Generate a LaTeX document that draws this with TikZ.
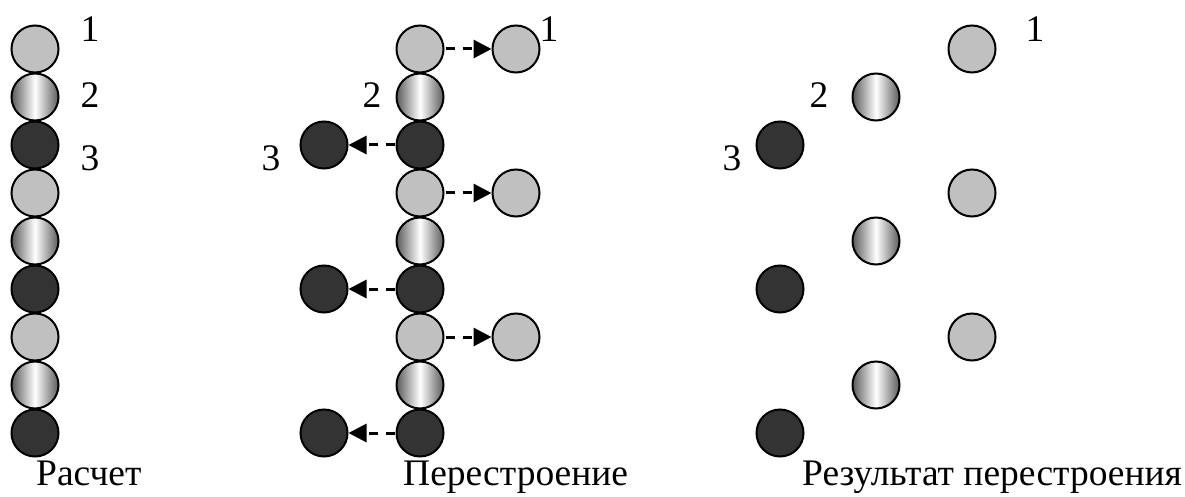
\documentclass[tikz,border=0pt]{standalone}
\usepackage{fontspec}
\setmainfont{Liberation Serif}
\usetikzlibrary{arrows.meta}
\definecolor{ballgrey}{HTML}{C0C0C0}
\definecolor{balldark}{HTML}{333333}
\definecolor{balledge}{HTML}{5A5A5A}
\tikzset{
  ball/.style={circle, draw=black, line width=2pt, minimum size=47pt, inner sep=0pt},
  gball/.style={ball, fill=ballgrey},
  dball/.style={ball, fill=balldark},
  wball/.style={ball, left color=balledge, right color=balledge, middle color=white},
  lbl/.style={inner sep=0pt, font=\fontsize{37.5}{40}\selectfont},
  captxt/.style={inner sep=0pt, anchor=base west, font=\fontsize{37.5}{40}\selectfont},
  mv/.style={line width=3pt, dash pattern=on 9pt off 8pt, -{Triangle[length=18pt,width=18pt]}, shorten <=1pt, shorten >=0pt}
}
\begin{document}
\begin{tikzpicture}[x=1pt,y=-1pt]
\useasboundingbox (0,0) rectangle (1185,497);
% column 1
\foreach \i/\s in {0/gball,1/wball,2/dball,3/gball,4/wball,5/dball,6/gball,7/wball,8/dball}{
  \node[\s] (a\i) at (35,{49+48*\i}) {};
}
\node[lbl] (a1l) at (90,29) {1};
\node[lbl] (a2l) at (90,95) {2};
\node[lbl] (a3l) at (90,158) {3};
% column 2
\foreach \i/\s in {0/gball,1/wball,2/dball,3/gball,4/wball,5/dball,6/gball,7/wball,8/dball}{
  \node[\s] (b\i) at (420,{49+48*\i}) {};
}
\node[gball] (r0) at (516,49) {};
\node[gball] (r3) at (516,193) {};
\node[gball] (r6) at (516,337) {};
\node[dball] (l2) at (324,145) {};
\node[dball] (l5) at (324,289) {};
\node[dball] (l8) at (324,433) {};
\draw[mv] (b0) -- (r0);
\draw[mv] (b3) -- (r3);
\draw[mv] (b6) -- (r6);
\draw[mv] (b2) -- (l2);
\draw[mv] (b5) -- (l5);
\draw[mv] (b8) -- (l8);
\node[lbl] (b1l) at (549,29) {1};
\node[lbl] (b2l) at (372,95) {2};
\node[lbl] (b3l) at (271,158) {3};
% column 3
\node[gball] (c0) at (972,49) {};
\node[gball] (c3) at (972,193) {};
\node[gball] (c6) at (972,337) {};
\node[wball] (c1) at (876,97) {};
\node[wball] (c4) at (876,241) {};
\node[wball] (c7) at (876,385) {};
\node[dball] (c2) at (780,145) {};
\node[dball] (c5) at (780,289) {};
\node[dball] (c8) at (780,433) {};
\node[lbl] (c1l) at (1035,29) {1};
\node[lbl] (c2l) at (819,95) {2};
\node[lbl] (c3l) at (732,158) {3};
% captions
\node[captxt] (k1) at (36,485) {Расчет};
\node[captxt] (k2) at (403,485) {Перестроение};
\node[captxt] (k3) at (802,485) {Результат перестроения};
\end{tikzpicture}
\end{document}
